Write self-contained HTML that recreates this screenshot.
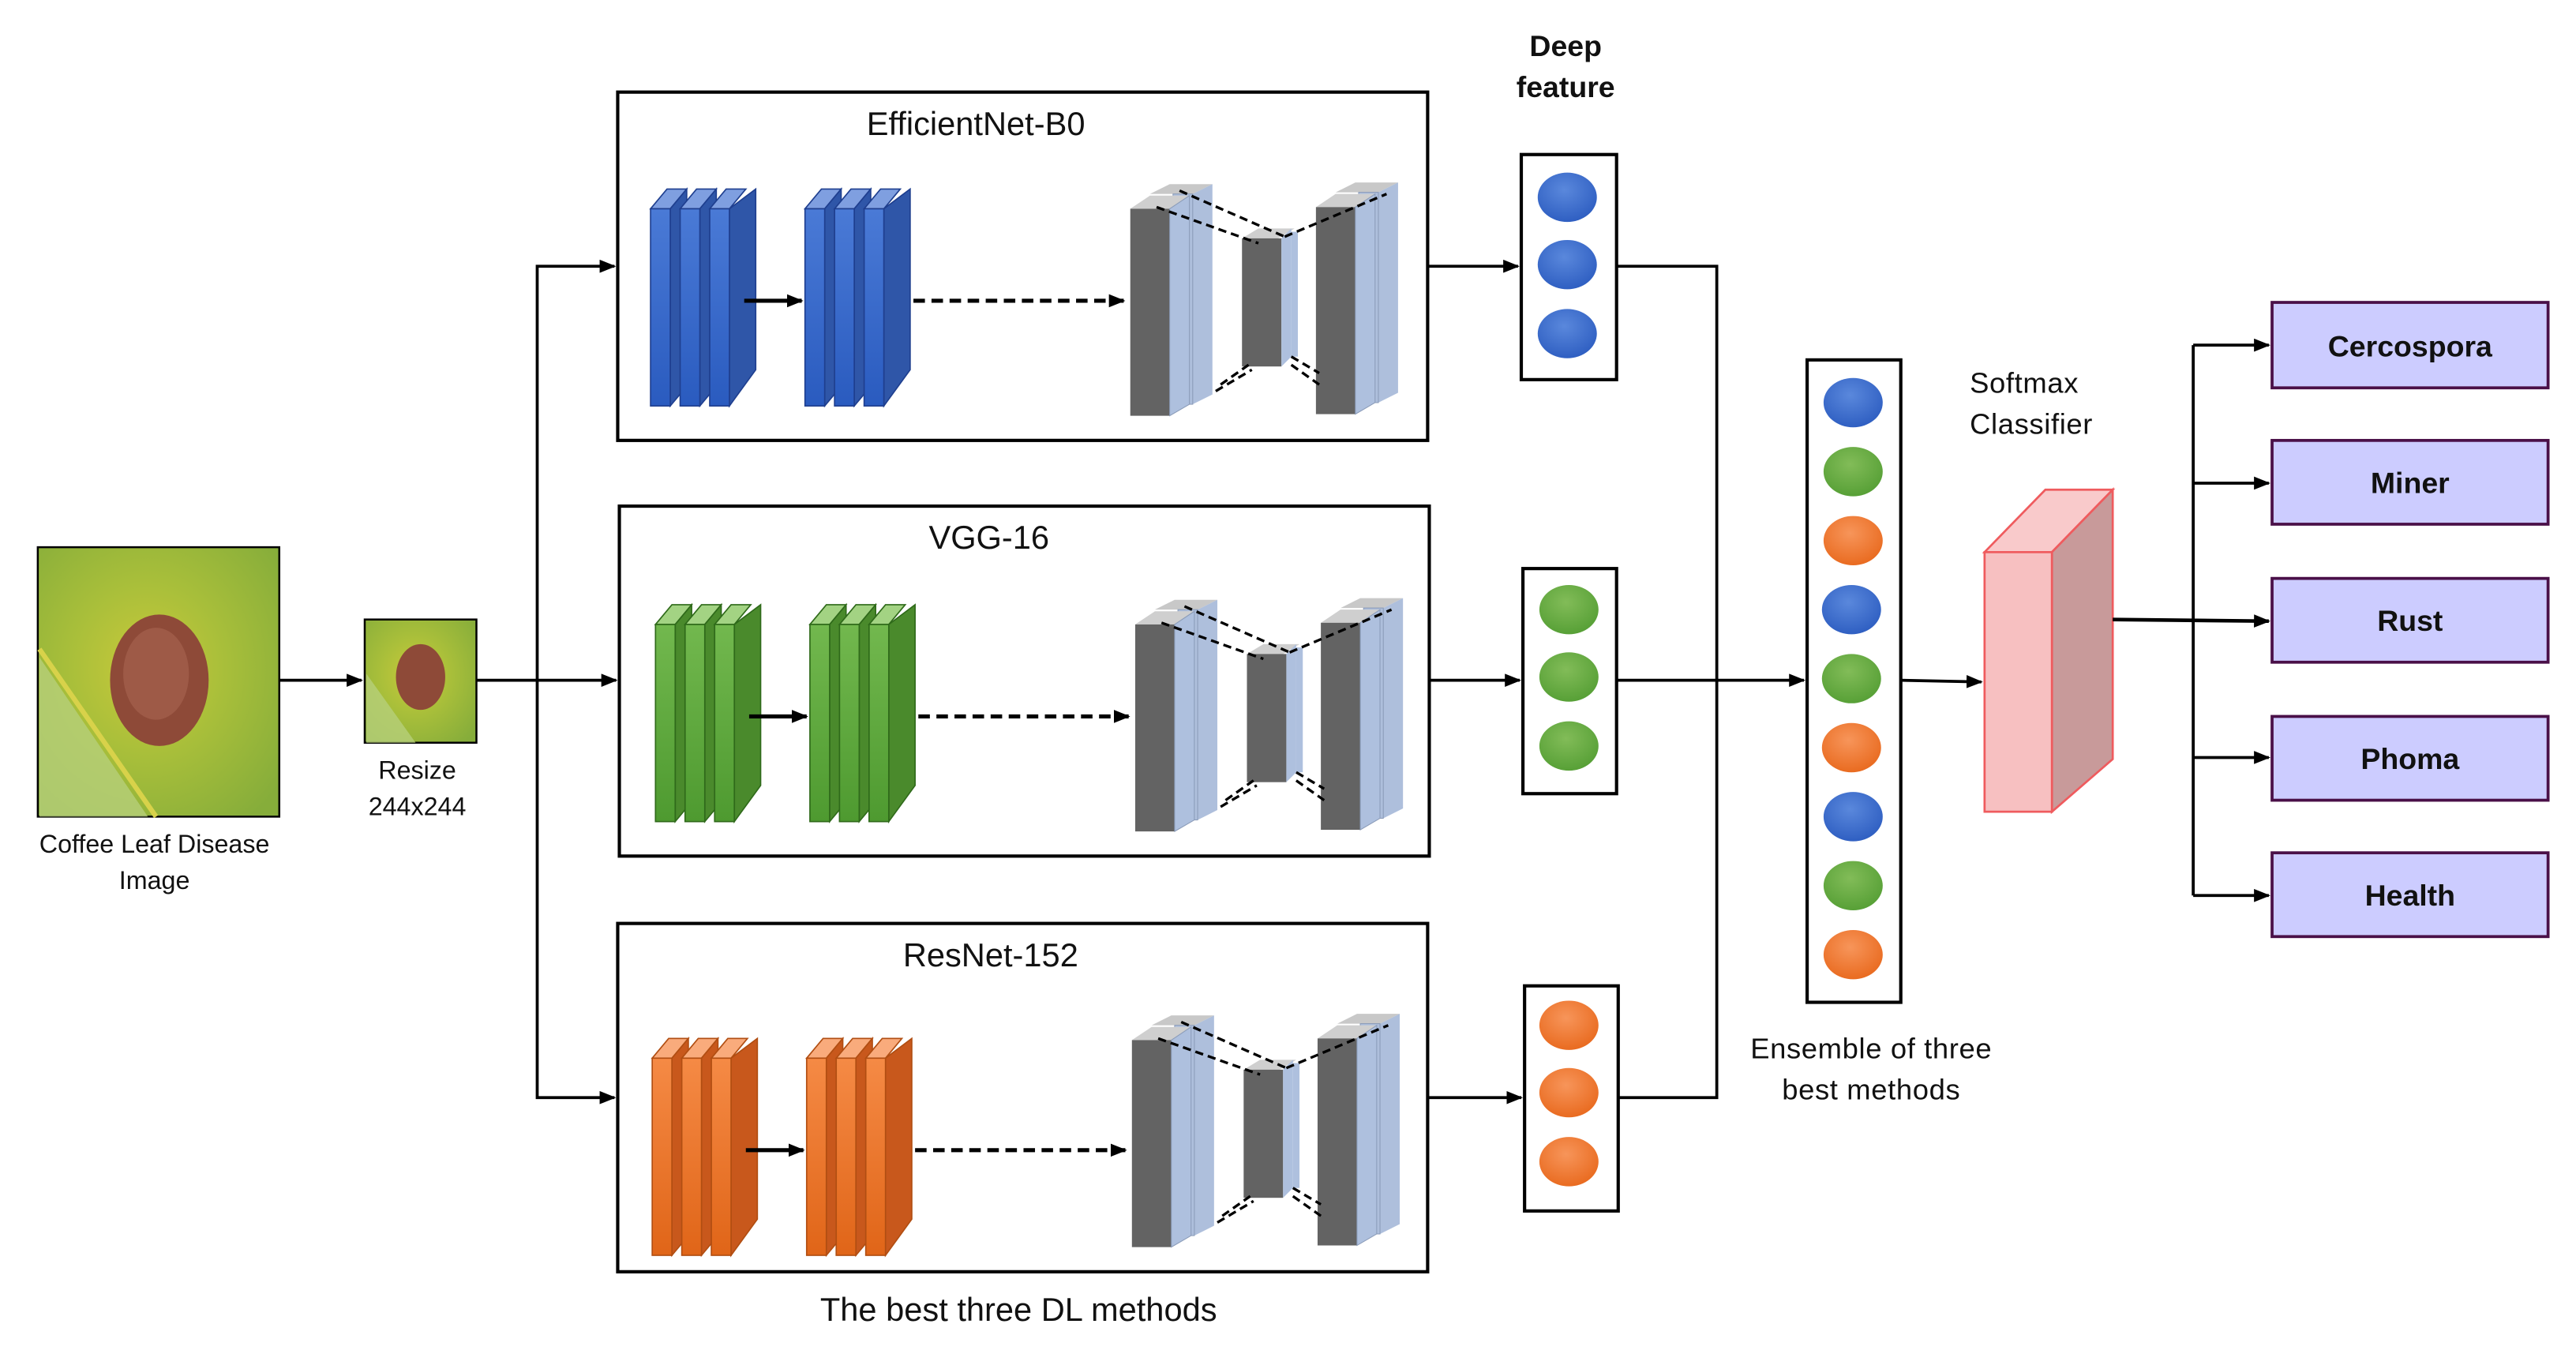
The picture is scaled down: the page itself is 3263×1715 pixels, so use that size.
<!DOCTYPE html>
<html><head><meta charset="utf-8"><style>
html,body{margin:0;padding:0;background:#fff}
svg{display:block}
text{font-family:"Liberation Sans",sans-serif}
</style></head><body>
<svg width="3263" height="1715" viewBox="0 0 1568 824" xmlns="http://www.w3.org/2000/svg">
<defs>
<marker id="ar" markerWidth="10" markerHeight="8" refX="9" refY="4" orient="auto" markerUnits="userSpaceOnUse"><path d="M0,0 L10,4 L0,8 z" fill="#000"/></marker>
<linearGradient id="blF" x1="0" y1="0" x2="0" y2="1"><stop offset="0" stop-color="#4a7ad6"/><stop offset="1" stop-color="#2a5bbf"/></linearGradient>
<linearGradient id="grF" x1="0" y1="0" x2="0" y2="1"><stop offset="0" stop-color="#72b84e"/><stop offset="1" stop-color="#4e9a30"/></linearGradient>
<linearGradient id="orF" x1="0" y1="0" x2="0" y2="1"><stop offset="0" stop-color="#f58a45"/><stop offset="1" stop-color="#e06518"/></linearGradient>
<radialGradient id="cb" cx="0.45" cy="0.35" r="0.7"><stop offset="0" stop-color="#5a88dc"/><stop offset="1" stop-color="#2c5cc0"/></radialGradient>
<radialGradient id="cg" cx="0.45" cy="0.35" r="0.7"><stop offset="0" stop-color="#82bc58"/><stop offset="1" stop-color="#549e34"/></radialGradient>
<radialGradient id="co" cx="0.45" cy="0.35" r="0.7"><stop offset="0" stop-color="#f7955a"/><stop offset="1" stop-color="#e8681c"/></radialGradient>
<radialGradient id="leaf" cx="0.45" cy="0.45" r="0.7"><stop offset="0" stop-color="#c9c93a"/><stop offset="0.45" stop-color="#a9bf3a"/><stop offset="1" stop-color="#86ad3a"/></radialGradient>
<g id="stackB">
 <g><path d="M396,127 l10,-12 h12 l-10,12z" fill="#7f9fe0" stroke="#1f3f8f" stroke-width="0.8"/><path d="M408,127 l10,-12 v120 l-10,12z" fill="#2f56a8" stroke="#1f3f8f" stroke-width="0.8"/><rect x="396" y="127" width="12" height="120" fill="url(#blF)" stroke="#1f3f8f" stroke-width="0.8"/></g>
 <g transform="translate(18,0)"><path d="M396,127 l10,-12 h12 l-10,12z" fill="#7f9fe0" stroke="#1f3f8f" stroke-width="0.8"/><path d="M408,127 l10,-12 v120 l-10,12z" fill="#2f56a8" stroke="#1f3f8f" stroke-width="0.8"/><rect x="396" y="127" width="12" height="120" fill="url(#blF)" stroke="#1f3f8f" stroke-width="0.8"/></g>
 <g transform="translate(36,0)"><path d="M396,127 l10,-12 h12 l-10,12z" fill="#7f9fe0" stroke="#1f3f8f" stroke-width="0.8"/><path d="M408,127 l16,-12 v110 l-16,22z" fill="#2f56a8" stroke="#1f3f8f" stroke-width="0.8"/><rect x="396" y="127" width="12" height="120" fill="url(#blF)" stroke="#1f3f8f" stroke-width="0.8"/></g>
</g>
<g id="stackG">
 <g><path d="M396,127 l10,-12 h12 l-10,12z" fill="#a3d383" stroke="#2f6a1a" stroke-width="0.8"/><path d="M408,127 l10,-12 v120 l-10,12z" fill="#4a8a2c" stroke="#2f6a1a" stroke-width="0.8"/><rect x="396" y="127" width="12" height="120" fill="url(#grF)" stroke="#2f6a1a" stroke-width="0.8"/></g>
 <g transform="translate(18,0)"><path d="M396,127 l10,-12 h12 l-10,12z" fill="#a3d383" stroke="#2f6a1a" stroke-width="0.8"/><path d="M408,127 l10,-12 v120 l-10,12z" fill="#4a8a2c" stroke="#2f6a1a" stroke-width="0.8"/><rect x="396" y="127" width="12" height="120" fill="url(#grF)" stroke="#2f6a1a" stroke-width="0.8"/></g>
 <g transform="translate(36,0)"><path d="M396,127 l10,-12 h12 l-10,12z" fill="#a3d383" stroke="#2f6a1a" stroke-width="0.8"/><path d="M408,127 l16,-12 v110 l-16,22z" fill="#4a8a2c" stroke="#2f6a1a" stroke-width="0.8"/><rect x="396" y="127" width="12" height="120" fill="url(#grF)" stroke="#2f6a1a" stroke-width="0.8"/></g>
</g>
<g id="stackO">
 <g><path d="M396,127 l10,-12 h12 l-10,12z" fill="#f9ab7c" stroke="#b14e12" stroke-width="0.8"/><path d="M408,127 l10,-12 v120 l-10,12z" fill="#c8581c" stroke="#b14e12" stroke-width="0.8"/><rect x="396" y="127" width="12" height="120" fill="url(#orF)" stroke="#b14e12" stroke-width="0.8"/></g>
 <g transform="translate(18,0)"><path d="M396,127 l10,-12 h12 l-10,12z" fill="#f9ab7c" stroke="#b14e12" stroke-width="0.8"/><path d="M408,127 l10,-12 v120 l-10,12z" fill="#c8581c" stroke="#b14e12" stroke-width="0.8"/><rect x="396" y="127" width="12" height="120" fill="url(#orF)" stroke="#b14e12" stroke-width="0.8"/></g>
 <g transform="translate(36,0)"><path d="M396,127 l10,-12 h12 l-10,12z" fill="#f9ab7c" stroke="#b14e12" stroke-width="0.8"/><path d="M408,127 l16,-12 v110 l-16,22z" fill="#c8581c" stroke="#b14e12" stroke-width="0.8"/><rect x="396" y="127" width="12" height="120" fill="url(#orF)" stroke="#b14e12" stroke-width="0.8"/></g>
</g>
<g id="col">
 <path d="M700,118 l12,-6 h26 l-12,6z" fill="#c8c8c8"/>
 <path d="M726,118 l12,-6 v128 l-12,6z" fill="#aebfdc"/>
 <rect x="714" y="118" width="12" height="128" fill="#aebfdc" stroke="#8a9bb8" stroke-width="0.5"/>
 <path d="M688,127 l12,-8 h24 l-12,8z" fill="#cfcfcf"/>
 <rect x="688" y="127" width="24" height="126" fill="#636363"/>
 <path d="M712,127 l12,-8 v127 l-12,7z" fill="#aec0de" stroke="#8a9bb8" stroke-width="0.5"/>
</g>
<g id="mid">
 <use href="#col"/>
 <use href="#col" transform="translate(113,-1)"/>
 <path d="M756,145 l10,-6 h22 l-10,6z" fill="#cfcfcf"/>
 <rect x="756" y="145" width="24" height="78" fill="#636363"/>
 <path d="M780,145 l6,-6 v78 l-6,6z" fill="#aec0de"/>
 <rect x="786" y="141" width="4" height="76" fill="#aec0de"/>
 <g stroke="#000" stroke-width="1.6" stroke-dasharray="5,3" fill="none">
  <line x1="718" y1="116" x2="782" y2="144"/><line x1="704" y1="126" x2="766" y2="148"/>
  <line x1="782" y1="144" x2="844" y2="118"/>
  <line x1="740" y1="238" x2="762" y2="225"/><line x1="743" y1="234" x2="760" y2="222"/>
  <line x1="786" y1="217" x2="803" y2="227"/><line x1="786" y1="222" x2="803" y2="234"/>
 </g>
</g>
<g id="arr">
 <line x1="453" y1="183" x2="488" y2="183" stroke="#000" stroke-width="2.5" marker-end="url(#ar)"/>
 <line x1="556" y1="183" x2="684" y2="183" stroke="#000" stroke-width="2.5" stroke-dasharray="7,4" marker-end="url(#ar)"/>
</g>
</defs>

<rect x="23" y="333" width="147" height="164" fill="url(#leaf)" stroke="#000" stroke-width="1.2"/>
<path d="M24,400 L90,497 L24,497z" fill="#b7cf7a" opacity="0.8"/>
<path d="M24,395 L95,497" stroke="#d8d24a" stroke-width="3"/>
<ellipse cx="97" cy="414" rx="30" ry="40" fill="#8e4a38"/>
<ellipse cx="95" cy="410" rx="20" ry="28" fill="#a86552" opacity="0.6"/>
<text x="94" y="519" font-size="15.5" text-anchor="middle" fill="#111">Coffee Leaf Disease</text>
<text x="94" y="541" font-size="15.5" text-anchor="middle" fill="#111">Image</text>

<rect x="222" y="377" width="68" height="75" fill="url(#leaf)" stroke="#000" stroke-width="1.2"/>
<path d="M223,410 L253,452 L223,452z" fill="#b7cf7a" opacity="0.8"/>
<ellipse cx="256" cy="412" rx="15" ry="20" fill="#8e4a38"/>
<text x="254" y="474" font-size="15.5" text-anchor="middle" fill="#111">Resize</text>
<text x="254" y="496" font-size="15.5" text-anchor="middle" fill="#111">244x244</text>

<g stroke="#000" stroke-width="1.8" fill="none">
 <line x1="170" y1="414" x2="220" y2="414" marker-end="url(#ar)"/>
 <line x1="290" y1="414" x2="375" y2="414" marker-end="url(#ar)"/>
 <polyline points="327,414 327,162 374,162" marker-end="url(#ar)"/>
 <polyline points="327,414 327,668 374,668" marker-end="url(#ar)"/>
</g>

<rect x="376" y="56" width="493" height="212" fill="none" stroke="#000" stroke-width="2"/>
<rect x="377" y="308" width="493" height="213" fill="none" stroke="#000" stroke-width="2"/>
<rect x="376" y="562" width="493" height="212" fill="none" stroke="#000" stroke-width="2"/>
<text x="594" y="82" font-size="20" text-anchor="middle" fill="#111">EfficientNet-B0</text>
<text x="602" y="334" font-size="20" text-anchor="middle" fill="#111">VGG-16</text>
<text x="603" y="588" font-size="20" text-anchor="middle" fill="#111">ResNet-152</text>
<text x="620" y="804" font-size="20" text-anchor="middle" fill="#111">The best three DL methods</text>

<use href="#stackB"/><use href="#stackB" transform="translate(94,0)"/><use href="#mid"/><use href="#arr"/>
<g transform="translate(3,253)"><use href="#stackG"/><use href="#stackG" transform="translate(94,0)"/><use href="#mid"/><use href="#arr"/></g>
<g transform="translate(1,517)"><use href="#stackO"/><use href="#stackO" transform="translate(94,0)"/><use href="#arr"/></g>
<g transform="translate(1,506)"><use href="#mid"/></g>

<text x="953" y="34" font-size="18" font-weight="bold" text-anchor="middle" fill="#111">Deep</text>
<text x="953" y="59" font-size="18" font-weight="bold" text-anchor="middle" fill="#111">feature</text>
<rect x="926" y="94" width="58" height="137" fill="none" stroke="#000" stroke-width="2"/>
<rect x="927" y="346" width="57" height="137" fill="none" stroke="#000" stroke-width="2"/>
<rect x="928" y="600" width="57" height="137" fill="none" stroke="#000" stroke-width="2"/>
<ellipse cx="954" cy="120" rx="18" ry="15" fill="url(#cb)"/><ellipse cx="954" cy="161" rx="18" ry="15" fill="url(#cb)"/><ellipse cx="954" cy="203" rx="18" ry="15" fill="url(#cb)"/>
<ellipse cx="955" cy="371" rx="18" ry="15" fill="url(#cg)"/><ellipse cx="955" cy="412" rx="18" ry="15" fill="url(#cg)"/><ellipse cx="955" cy="454" rx="18" ry="15" fill="url(#cg)"/>
<ellipse cx="955" cy="624" rx="18" ry="15" fill="url(#co)"/><ellipse cx="955" cy="665" rx="18" ry="15" fill="url(#co)"/><ellipse cx="955" cy="707" rx="18" ry="15" fill="url(#co)"/>
<g stroke="#000" stroke-width="1.8" fill="none">
 <line x1="869" y1="162" x2="924" y2="162" marker-end="url(#ar)"/>
 <line x1="870" y1="414" x2="925" y2="414" marker-end="url(#ar)"/>
 <line x1="869" y1="668" x2="926" y2="668" marker-end="url(#ar)"/>
 <polyline points="984,162 1045,162 1045,668 985,668"/>
 <line x1="984" y1="414" x2="1098" y2="414" marker-end="url(#ar)"/>
 <line x1="1157" y1="414" x2="1206" y2="415" marker-end="url(#ar)"/>
</g>

<rect x="1100" y="219" width="57" height="391" fill="none" stroke="#000" stroke-width="2"/>
<ellipse cx="1128" cy="245" rx="18" ry="15" fill="url(#cb)"/>
<ellipse cx="1128" cy="287" rx="18" ry="15" fill="url(#cg)"/>
<ellipse cx="1128" cy="329" rx="18" ry="15" fill="url(#co)"/>
<ellipse cx="1127" cy="371" rx="18" ry="15" fill="url(#cb)"/>
<ellipse cx="1127" cy="413" rx="18" ry="15" fill="url(#cg)"/>
<ellipse cx="1127" cy="455" rx="18" ry="15" fill="url(#co)"/>
<ellipse cx="1128" cy="497" rx="18" ry="15" fill="url(#cb)"/>
<ellipse cx="1128" cy="539" rx="18" ry="15" fill="url(#cg)"/>
<ellipse cx="1128" cy="581" rx="18" ry="15" fill="url(#co)"/>
<text x="1139" y="644" font-size="17.5" text-anchor="middle" fill="#111" letter-spacing="0.3">Ensemble of three</text>
<text x="1139" y="669" font-size="17.5" text-anchor="middle" fill="#111" letter-spacing="0.3">best methods</text>

<text x="1199" y="239" font-size="17.5" fill="#111" letter-spacing="0.3">Softmax</text>
<text x="1199" y="264" font-size="17.5" fill="#111" letter-spacing="0.3">Classifier</text>
<path d="M1208,336 L1249,336 L1286,298 L1245,298z" fill="#f9cacb" stroke="#ef5b5e" stroke-width="1.3"/>
<path d="M1249,336 L1286,298 L1286,462 L1249,494z" fill="#c89a9a" stroke="#ef5b5e" stroke-width="1.3"/>
<rect x="1208" y="336" width="41" height="158" fill="#f7c0c1" stroke="#ef5b5e" stroke-width="1.3"/>

<g stroke="#000" stroke-width="1.8" fill="none">
 <line x1="1286" y1="377" x2="1381" y2="378" marker-end="url(#ar)" stroke-width="2.2"/>
 <line x1="1335" y1="210" x2="1335" y2="545"/>
 <line x1="1335" y1="210" x2="1381" y2="210" marker-end="url(#ar)"/>
 <line x1="1335" y1="294" x2="1381" y2="294" marker-end="url(#ar)"/>
 <line x1="1335" y1="461" x2="1381" y2="461" marker-end="url(#ar)"/>
 <line x1="1335" y1="545" x2="1381" y2="545" marker-end="url(#ar)"/>
</g>
<g fill="#ccccff" stroke="#4a1048" stroke-width="1.8">
 <rect x="1383" y="184" width="168" height="52"/>
 <rect x="1383" y="268" width="168" height="51"/>
 <rect x="1383" y="352" width="168" height="51"/>
 <rect x="1383" y="436" width="168" height="51"/>
 <rect x="1383" y="519" width="168" height="51"/>
</g>
<g font-size="18" font-weight="bold" text-anchor="middle" fill="#111">
 <text x="1467" y="217">Cercospora</text>
 <text x="1467" y="300">Miner</text>
 <text x="1467" y="384">Rust</text>
 <text x="1467" y="468">Phoma</text>
 <text x="1467" y="551">Health</text>
</g>
</svg>
</body></html>
